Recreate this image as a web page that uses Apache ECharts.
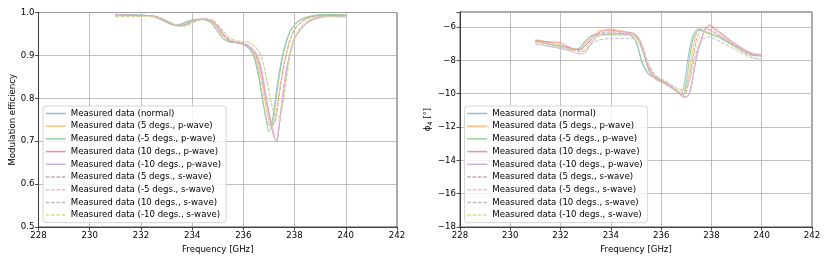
<!DOCTYPE html>
<html>
<head>
<meta charset="utf-8">
<script src="https://cdn.jsdelivr.net/npm/echarts@6/dist/echarts.min.js"></script>
<style>html,body{margin:0;padding:0;background:#fff}#c{width:830px;height:260px}</style>
</head>
<body>
<div id="c"></div>
<script>
// Frequency [GHz]
const freq = [231,231.25,231.5,231.75,232,232.25,232.5,232.75,233,233.25,233.5,233.75,234,234.25,234.5,234.75,235,235.25,235.5,235.75,236,
  236.2,236.3,236.4,236.5,236.6,236.7,236.8,236.9,237.0,237.1,237.2,237.3,237.4,237.5,237.6,237.7,237.8,237.9,238.0,
  238.25,238.5,238.75,239,239.25,239.5,239.75,240];

const seriesNames = ['Measured data (normal)','Measured data (5 degs., p-wave)','Measured data (-5 degs., p-wave)',
  'Measured data (10 degs., p-wave)','Measured data (-10 degs., p-wave)','Measured data (5 degs., s-wave)',
  'Measured data (-5 degs., s-wave)','Measured data (10 degs., s-wave)','Measured data (-10 degs., s-wave)'];

// Modulation efficiency
const meNormal = [0.995,0.995,0.994,0.994,0.994,0.993,0.990,0.984,0.977,0.971,0.972,0.978,0.983,0.984,0.983,0.975,0.955,0.937,0.931,0.930,0.926,
  0.916,0.910,0.899,0.876,0.848,0.814,0.780,0.752,0.737,0.740,0.775,0.820,0.860,0.893,0.918,0.938,0.953,0.964,0.972,
  0.983,0.989,0.992,0.994,0.995,0.995,0.994,0.994];
const meP5 = [0.995,0.995,0.994,0.993,0.993,0.993,0.991,0.986,0.979,0.972,0.970,0.975,0.981,0.984,0.984,0.979,0.962,0.942,0.932,0.930,0.928,
  0.921,0.914,0.904,0.890,0.870,0.842,0.808,0.774,0.748,0.730,0.745,0.776,0.815,0.852,0.885,0.912,0.934,0.950,0.962,
  0.978,0.987,0.991,0.993,0.994,0.994,0.994,0.993];
const meM5P = [0.996,0.995,0.995,0.994,0.994,0.993,0.991,0.985,0.978,0.972,0.971,0.977,0.982,0.984,0.983,0.976,0.957,0.938,0.931,0.930,0.927,
  0.918,0.910,0.899,0.882,0.855,0.818,0.780,0.748,0.722,0.732,0.765,0.808,0.850,0.886,0.913,0.935,0.951,0.963,0.972,
  0.984,0.990,0.993,0.995,0.995,0.995,0.995,0.994];
const meP10 = [0.994,0.994,0.994,0.993,0.993,0.993,0.992,0.988,0.981,0.974,0.969,0.972,0.979,0.984,0.985,0.982,0.968,0.948,0.934,0.929,0.926,
  0.922,0.918,0.912,0.904,0.892,0.868,0.835,0.800,0.768,0.738,0.712,0.700,0.735,0.785,0.832,0.870,0.898,0.920,0.940,
  0.962,0.976,0.984,0.988,0.991,0.992,0.992,0.992];
const meM10P = [0.995,0.995,0.994,0.994,0.993,0.993,0.991,0.987,0.980,0.973,0.968,0.972,0.980,0.984,0.985,0.981,0.966,0.946,0.933,0.929,0.926,
  0.920,0.915,0.908,0.899,0.886,0.862,0.830,0.795,0.763,0.733,0.710,0.701,0.738,0.790,0.836,0.873,0.900,0.921,0.940,
  0.962,0.977,0.985,0.989,0.991,0.992,0.992,0.992];
const meS5 = [0.992,0.992,0.992,0.992,0.992,0.992,0.990,0.986,0.979,0.972,0.968,0.972,0.979,0.983,0.984,0.980,0.965,0.945,0.933,0.931,0.929,
  0.923,0.917,0.909,0.897,0.880,0.855,0.823,0.790,0.762,0.742,0.740,0.765,0.805,0.845,0.880,0.908,0.930,0.947,0.960,
  0.977,0.986,0.990,0.992,0.993,0.993,0.992,0.992];
const meSM5 = [0.992,0.992,0.991,0.991,0.991,0.991,0.990,0.987,0.981,0.974,0.968,0.970,0.977,0.982,0.984,0.982,0.969,0.950,0.936,0.931,0.929,
  0.924,0.919,0.913,0.905,0.893,0.872,0.840,0.805,0.772,0.742,0.720,0.715,0.742,0.788,0.833,0.870,0.897,0.918,0.937,
  0.960,0.975,0.983,0.988,0.990,0.991,0.991,0.991];
const meS10 = [0.991,0.991,0.991,0.991,0.991,0.991,0.990,0.987,0.981,0.974,0.968,0.969,0.976,0.982,0.984,0.983,0.972,0.954,0.939,0.933,0.932,
  0.930,0.927,0.923,0.918,0.910,0.896,0.874,0.845,0.812,0.785,0.766,0.757,0.757,0.775,0.815,0.860,0.897,0.924,0.942,
  0.966,0.980,0.987,0.990,0.991,0.991,0.990,0.990];
const meSM10 = [0.990,0.990,0.990,0.990,0.990,0.991,0.990,0.987,0.982,0.975,0.969,0.969,0.975,0.981,0.983,0.983,0.973,0.956,0.940,0.934,0.933,
  0.931,0.928,0.924,0.919,0.911,0.898,0.877,0.849,0.817,0.790,0.770,0.760,0.756,0.770,0.805,0.850,0.890,0.920,0.940,
  0.965,0.979,0.986,0.989,0.990,0.990,0.989,0.989];

// phi_4 [deg]
const phiNormal = [-6.85,-6.92,-7.02,-7.10,-7.18,-7.26,-7.38,-7.25,-6.80,-6.50,-6.46,-6.45,-6.45,-6.42,-6.42,-6.48,-6.9,-8.2,-8.85,-9.02,-9.2,
  -9.35,-9.45,-9.55,-9.65,-9.78,-9.9,-9.97,-9.6,-8.6,-7.6,-6.85,-6.4,-6.18,-6.1,-6.15,-6.22,-6.3,-6.36,-6.43,
  -6.55,-6.75,-7.0,-7.2,-7.45,-7.65,-7.72,-7.75];
const phiP5 = [-6.75,-6.82,-6.9,-6.98,-7.08,-7.18,-7.3,-7.35,-7.0,-6.55,-6.25,-6.15,-6.12,-6.18,-6.25,-6.32,-6.5,-7.3,-8.4,-8.95,-9.2,
  -9.35,-9.45,-9.55,-9.65,-9.78,-9.9,-10.0,-10.05,-9.7,-8.9,-7.9,-7.0,-6.4,-6.1,-6.0,-6.02,-6.1,-6.18,-6.25,
  -6.45,-6.65,-6.9,-7.1,-7.35,-7.55,-7.65,-7.65];
const phiM5P = [-6.82,-6.90,-7.00,-7.08,-7.16,-7.25,-7.36,-7.30,-6.90,-6.55,-6.47,-6.46,-6.45,-6.43,-6.42,-6.46,-6.85,-8.1,-8.8,-9.05,-9.22,
  -9.38,-9.48,-9.58,-9.68,-9.8,-9.92,-10.02,-10.0,-9.3,-8.2,-7.2,-6.6,-6.3,-6.2,-6.22,-6.28,-6.35,-6.4,-6.46,
  -6.6,-6.8,-7.02,-7.22,-7.45,-7.63,-7.7,-7.72];
const phiP10 = [-6.8,-6.85,-6.9,-6.9,-6.95,-7.15,-7.3,-7.35,-7.1,-6.7,-6.35,-6.22,-6.18,-6.25,-6.3,-6.35,-6.45,-7.1,-8.6,-9.1,-9.3,
  -9.45,-9.55,-9.65,-9.75,-9.85,-9.98,-10.1,-10.2,-10.2,-10.05,-9.6,-8.7,-7.9,-7.3,-6.8,-6.3,-6.0,-5.88,-5.92,
  -6.2,-6.5,-6.8,-7.05,-7.3,-7.5,-7.62,-7.65];
const phiM10P = [-7.05,-7.08,-7.15,-7.22,-7.3,-7.38,-7.5,-7.62,-7.5,-6.9,-6.5,-6.42,-6.4,-6.4,-6.42,-6.45,-6.6,-7.4,-8.5,-9.05,-9.25,
  -9.42,-9.52,-9.62,-9.72,-9.85,-9.98,-10.12,-10.22,-10.22,-10.0,-9.5,-8.6,-7.8,-7.2,-6.7,-6.3,-6.05,-6.0,-6.05,
  -6.3,-6.55,-6.85,-7.1,-7.35,-7.55,-7.65,-7.7];
const phiS5 = [-6.85,-6.9,-6.98,-7.05,-7.12,-7.22,-7.35,-7.4,-7.1,-6.7,-6.4,-6.32,-6.3,-6.3,-6.32,-6.38,-6.55,-7.3,-8.4,-8.95,-9.2,
  -9.38,-9.48,-9.58,-9.68,-9.8,-9.92,-10.02,-10.08,-9.9,-9.3,-8.4,-7.5,-6.8,-6.35,-6.12,-6.05,-6.08,-6.15,-6.22,
  -6.45,-6.7,-6.95,-7.15,-7.4,-7.6,-7.7,-7.7];
const phiSM5 = [-6.9,-6.95,-7.02,-7.1,-7.18,-7.28,-7.4,-7.48,-7.25,-6.85,-6.5,-6.35,-6.3,-6.3,-6.32,-6.38,-6.5,-7.1,-8.3,-8.9,-9.15,
  -9.32,-9.45,-9.55,-9.65,-9.78,-9.92,-10.05,-10.15,-10.18,-10.0,-9.55,-8.7,-7.9,-7.3,-6.8,-6.35,-6.08,-6.0,-6.05,
  -6.3,-6.55,-6.85,-7.1,-7.35,-7.55,-7.65,-7.7];
const phiS10 = [-6.95,-7.0,-7.08,-7.15,-7.22,-7.3,-7.4,-7.48,-7.4,-7.0,-6.8,-6.72,-6.7,-6.7,-6.7,-6.68,-6.7,-7.2,-8.2,-8.85,-9.1,
  -9.25,-9.35,-9.45,-9.55,-9.65,-9.72,-9.75,-9.72,-9.6,-9.3,-8.8,-8.1,-7.5,-7.05,-6.8,-6.65,-6.6,-6.6,-6.65,
  -6.8,-7.0,-7.2,-7.4,-7.6,-7.8,-7.9,-7.95];
const phiSM10 = [-6.9,-6.95,-7.02,-7.1,-7.18,-7.28,-7.4,-7.5,-7.35,-6.9,-6.6,-6.5,-6.48,-6.48,-6.5,-6.52,-6.65,-7.2,-8.3,-8.9,-9.15,
  -9.3,-9.4,-9.5,-9.6,-9.7,-9.78,-9.82,-9.8,-9.65,-9.2,-8.5,-7.7,-7.1,-6.7,-6.45,-6.35,-6.3,-6.32,-6.38,
  -6.6,-6.8,-7.05,-7.3,-7.5,-7.7,-7.85,-7.95];

const xTicks = [228,230,232,234,236,238,240,242];
const meTicks = [0.5,0.6,0.7,0.8,0.9,1.0];
const phiTicks = [-18,-16,-14,-12,-10,-8,-6];

const meData = [meNormal, meP5, meM5P, meP10, meM10P, meS5, meSM5, meS10, meSM10];
const phiData = [phiNormal, phiP5, phiM5P, phiP10, phiM10P, phiS5, phiSM5, phiS10, phiSM10];

const colors = ['#8fbbd9','#ffbf86','#95cf95','#ea9393','#c9b3de','#c5aaa5','#f1bbe0','#bfbfbf','#dddd8a'];
const dashed = [false,false,false,false,false,true,true,true,true];

const FONT = 'DejaVu Sans';
const FS = 8.6;
const minus = v => String(v).replace('-', '\u2212');
const lineType = k => dashed[k] ? [3.7, 1.6] : 'solid';

function xAxis(gi) {
  return {
    type: 'value', gridIndex: gi, min: 228, max: 242, interval: 2,
    name: 'Frequency [GHz]', nameLocation: 'middle', nameGap: 16,
    nameTextStyle: {fontFamily: FONT, fontSize: FS, color: '#000'},
    axisLine: {show: true, onZero: false, lineStyle: {color: '#222', width: 0.8}},
    axisTick: {show: true, length: 3.5, lineStyle: {color: '#222', width: 0.8}},
    axisLabel: {fontFamily: FONT, fontSize: FS, color: '#000', margin: 4,
      formatter: v => xTicks.includes(v) ? String(v) : ''},
    splitLine: {show: true, lineStyle: {color: '#b0b0b0', width: 0.8}}
  };
}

const option = {
  animation: false,
  backgroundColor: '#fff',
  grid: [
    {left: 38.5, top: 12.5, width: 358.5, height: 214.5, show: true, borderColor: '#222', borderWidth: 0.8, backgroundColor: 'transparent'},
    {left: 460, top: 12, width: 352, height: 215, show: true, borderColor: '#222', borderWidth: 0.8, backgroundColor: 'transparent'}
  ],
  xAxis: [xAxis(0), xAxis(1)],
  yAxis: [
    {type: 'value', gridIndex: 0, min: 0.5, max: 1.0, interval: 0.1,
      name: 'Modulation efficiency', nameLocation: 'middle', nameGap: 21,
      nameTextStyle: {fontFamily: FONT, fontSize: FS, color: '#000'},
      axisLine: {show: true, lineStyle: {color: '#222', width: 0.8}},
      axisTick: {show: true, length: 3.5, lineStyle: {color: '#222', width: 0.8}},
      axisLabel: {fontFamily: FONT, fontSize: FS, color: '#000', margin: 4, formatter: v => v.toFixed(1)},
      splitLine: {show: true, lineStyle: {color: '#b0b0b0', width: 0.8}}},
    {type: 'value', gridIndex: 1, min: -18, max: -5.1, interval: 2,
      name: '{p|ϕ}{s|4} [°]', nameLocation: 'middle', nameGap: 27,
      nameTextStyle: {fontFamily: FONT, fontSize: FS, color: '#000',
        rich: {p: {fontFamily: FONT, fontSize: FS, color: '#000'}, s: {fontFamily: FONT, fontSize: 6.2, color: '#000', verticalAlign: 'bottom', padding: [4,0,0,0]}}},
      axisLine: {show: true, lineStyle: {color: '#222', width: 0.8}},
      axisTick: {show: true, length: 3.5, lineStyle: {color: '#222', width: 0.8}},
      axisLabel: {fontFamily: FONT, fontSize: FS, color: '#000', margin: 4,
        formatter: v => phiTicks.includes(Math.round(v*100)/100) ? minus(v) : ''},
      splitLine: {show: true, lineStyle: {color: '#b0b0b0', width: 0.8}}}
  ],
  legend: [0, 1].map(gi => ({
    orient: 'vertical',
    left: gi === 0 ? 43 : 464.5,
    top: 106,
    data: seriesNames.map((n, k) => ({
      name: n,
      itemStyle: {opacity: 0},
      lineStyle: {color: colors[k], width: 1.5, type: lineType(k)}
    })),
    itemWidth: 20, itemHeight: 10, itemGap: 2.7,
    padding: [2.5, 5, 2.5, 2],
    backgroundColor: 'rgba(255,255,255,0.8)',
    borderColor: '#cccccc', borderWidth: 0.8, borderRadius: 3,
    textStyle: {fontFamily: FONT, fontSize: FS, color: '#000', lineHeight: 10},
    selectedMode: false
  })),
  series: []
};

[meData, phiData].forEach((set, gi) => {
  set.forEach((vals, k) => {
    option.series.push({
      type: 'line', name: seriesNames[k], xAxisIndex: gi, yAxisIndex: gi,
      data: freq.map((f, i) => [f, vals[i]]),
      symbol: 'none', smooth: 0.3,
      lineStyle: {color: colors[k], width: 1, type: lineType(k)},
      itemStyle: {color: colors[k]},
      z: 2
    });
  });
});

const chart = echarts.init(document.getElementById('c'), null, {renderer: 'canvas'});
chart.setOption(option);
</script>
</body>
</html>
